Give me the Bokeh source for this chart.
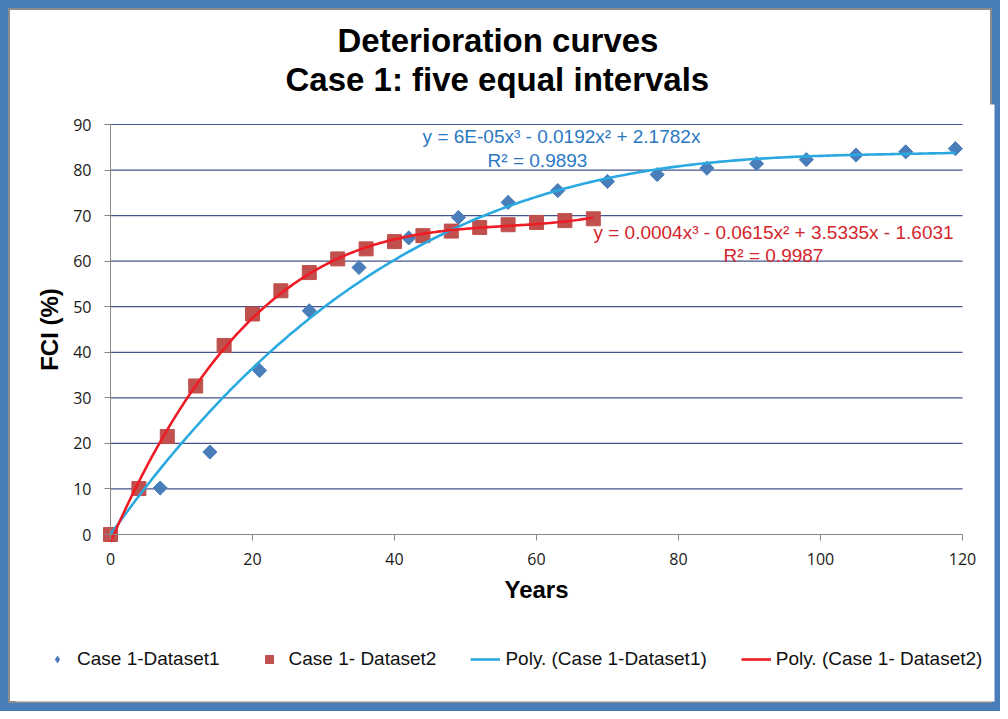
import numpy as np
from bokeh.plotting import figure
from bokeh.models import (ColumnDataSource, Label, Legend, LegendItem, FixedTicker,
                          Range1d, Title)
from bokeh.embed import file_html
from bokeh.resources import INLINE

# ---------------- data ----------------
title_lines = ["Deterioration curves", "Case 1: five equal intervals"]
x_label = "Years"
y_label = "FCI (%)"
x_ticks = [0, 20, 40, 60, 80, 100, 120]
y_ticks = [0, 10, 20, 30, 40, 50, 60, 70, 80, 90]

ds1_years = [0, 7, 14, 21, 28, 35, 42, 49, 56, 63, 70, 77, 84, 91, 98, 105, 112, 119]
ds1_fci = [0, 10.2, 18.1, 36.0, 49.1, 58.6, 65.1, 69.6, 72.9, 75.5, 77.5, 79.0, 80.4, 81.4, 82.3, 83.3, 84.0, 84.7]

ds2_years = [0, 4, 8, 12, 16, 20, 24, 28, 32, 36, 40, 44, 48, 52, 56, 60, 64, 68]
ds2_fci = [0, 10.1, 21.5, 32.6, 41.5, 48.4, 53.5, 57.5, 60.5, 62.7, 64.3, 65.6, 66.6, 67.4, 68.0, 68.5, 68.9, 69.3]

series_names = ["Case 1-Dataset1", "Case 1- Dataset2",
                "Poly. (Case 1-Dataset1)", "Poly. (Case 1- Dataset2)"]
eq1_lines = ["y = 6E-05x\u00b3 - 0.0192x\u00b2 + 2.1782x", "R\u00b2 = 0.9893"]
eq2_lines = ["y = 0.0004x\u00b3 - 0.0615x\u00b2 + 3.5335x - 1.6031", "R\u00b2 = 0.9987"]

# ---------------- polynomial trendlines (least squares, as the chart does) ----------------
x1 = np.array(ds1_years, dtype=float)
y1 = np.array(ds1_fci, dtype=float)
A1 = np.column_stack([x1 ** 3, x1 ** 2, x1])          # intercept fixed at 0
c1 = np.linalg.lstsq(A1, y1, rcond=None)[0]
xs1 = np.linspace(0, x1.max(), 240)
ys1 = c1[0] * xs1 ** 3 + c1[1] * xs1 ** 2 + c1[2] * xs1

x2 = np.array(ds2_years, dtype=float)
y2 = np.array(ds2_fci, dtype=float)
c2 = np.polyfit(x2, y2, 3)
xs2 = np.linspace(0, x2.max(), 240)
ys2 = np.polyval(c2, xs2)

# ---------------- layout constants (canvas pixels) ----------------
W, H = 1000, 711
PL, PR, PT, PB = 110, 962, 124, 534        # where the axes box sits
FL, FR, FT, FB = 16, 994, 104, 701         # drawing frame (wider, holds legend/labels)
XMAX, YMAX = 120, 90
xpp = XMAX / (PR - PL)
ypp = YMAX / (PB - PT)
x_start, x_end = -(PL - FL) * xpp, XMAX + (FR - PR) * xpp
y_start, y_end = -(FB - PB) * ypp, YMAX + (PT - FT) * ypp

def dx(px):
    return (px - PL) * xpp

def dy(py):
    return (PB - py) * ypp

BLUE_M = "#4a7ebb"
RED_M = "#c0504d"
BLUE_L = "#2aa9e0"
RED_L = "#ee1c25"
FONT = "Liberation Sans"

p = figure(width=W, height=H, x_range=Range1d(x_start, x_end),
           y_range=Range1d(y_start, y_end),
           output_backend="svg", toolbar_location=None,
           min_border_left=FL, min_border_right=W - FR,
           min_border_top=FT, min_border_bottom=H - FB)
p.styles = {"background-color": "white",
            "box-shadow": "inset 0 0 0 10px #8c8c8c",
            "outline": "8px solid #4a7ebb", "outline-offset": "-8px"}
p.background_fill_color = "white"
p.border_fill_color = None
p.outline_line_color = None

# axes, anchored at data zero
for ax in (p.xaxis[0], p.yaxis[0]):
    ax.fixed_location = 0
    ax.axis_line_color = "#888888"
    ax.major_tick_line_color = "#888888"
    ax.major_tick_in = 0
    ax.major_tick_out = 6
    ax.minor_tick_line_color = None
    ax.major_label_text_font = "Open Sans"
    ax.major_label_text_font_size = "16px"
    ax.major_label_text_color = "#1a1a1a"
    ax.axis_label_text_font = FONT
    ax.axis_label_text_font_style = "bold"
    ax.axis_label_text_font_size = "24px"
    ax.axis_label_text_color = "black"

p.xaxis.bounds = (0, XMAX)
p.yaxis.bounds = (0, YMAX)
p.xaxis.ticker = FixedTicker(ticks=x_ticks)
p.yaxis.ticker = FixedTicker(ticks=y_ticks)
p.xaxis.axis_label = x_label
p.yaxis.axis_label = y_label
p.xaxis.major_label_standoff = 12
p.yaxis.major_label_standoff = 13
p.xaxis.axis_label_standoff = 8
p.yaxis.axis_label_standoff = 7

# horizontal gridlines limited to the axes box
p.xgrid.grid_line_color = None
p.ygrid.grid_line_color = None
gy = [t for t in y_ticks if t > 0]
p.segment(x0=[0] * len(gy), x1=[XMAX] * len(gy), y0=gy, y1=gy,
          line_color="#45548a", line_width=1.2)

# markers
s1 = ColumnDataSource(dict(x=ds1_years, y=ds1_fci))
s2 = ColumnDataSource(dict(x=ds2_years, y=ds2_fci))
r_d1 = p.scatter("x", "y", source=s1, marker="square", size=10, angle=np.pi / 4,
                 fill_color=BLUE_M, line_color=BLUE_M)
r_d2 = p.scatter("x", "y", source=s2, marker="square", size=14,
                 fill_color=RED_M, line_color=RED_M)
# zero-size diamond companion of dataset 1: supplies the diamond legend swatch
r_d1_key = p.scatter("x", "y", source=s1, marker="diamond", size=0,
                     fill_color=BLUE_M, line_color=None)

# trendlines
r_t1 = p.line(xs1, ys1, line_color=BLUE_L, line_width=2.6)
r_t2 = p.line(xs2, ys2, line_color=RED_L, line_width=2.6)

# title: spacer (closest to frame), second line, first line
p.add_layout(Title(text=" ", text_font_size="1px", standoff=4), "above")
p.add_layout(Title(text=title_lines[1], align="left", offset=285 - FL, standoff=0,
                   text_font=FONT, text_font_style="bold", text_font_size="33px",
                   text_color="black"), "above")
p.add_layout(Title(text=title_lines[0], align="left", offset=337 - FL, standoff=0,
                   text_font=FONT, text_font_style="bold", text_font_size="33px",
                   text_color="black"), "above")

# equations
EQ_BLUE = "#2b78c2"
EQ_RED = "#d3252b"
for txt, (px, py) in zip(eq1_lines, ((561, 136), (537, 160))):
    p.add_layout(Label(x=dx(px), y=dy(py), text=txt, text_align="center",
                       text_baseline="middle", text_font=FONT,
                       text_font_size="19px", text_color=EQ_BLUE))
for txt, (px, py) in zip(eq2_lines, ((773, 232), (773, 255))):
    p.add_layout(Label(x=dx(px), y=dy(py), text=txt, text_align="center",
                       text_baseline="middle", text_font=FONT,
                       text_font_size="19px", text_color=EQ_RED))

# legend inside the (wide) frame, under the axis
legend = Legend(items=[LegendItem(label=series_names[0], renderers=[r_d1_key]),
                       LegendItem(label=series_names[1], renderers=[r_d2]),
                       LegendItem(label=series_names[2], renderers=[r_t1]),
                       LegendItem(label=series_names[3], renderers=[r_t2])],
                orientation="horizontal", location=(42 - FL, FB - 670),
                glyph_width=30, glyph_height=20, label_standoff=5, spacing=34,
                padding=0, margin=0, border_line_color=None,
                background_fill_alpha=0, label_text_font=FONT,
                label_text_font_size="19px", label_text_color="#111111")
p.add_layout(legend)

open("out.html", "w").write(file_html(p, INLINE))
